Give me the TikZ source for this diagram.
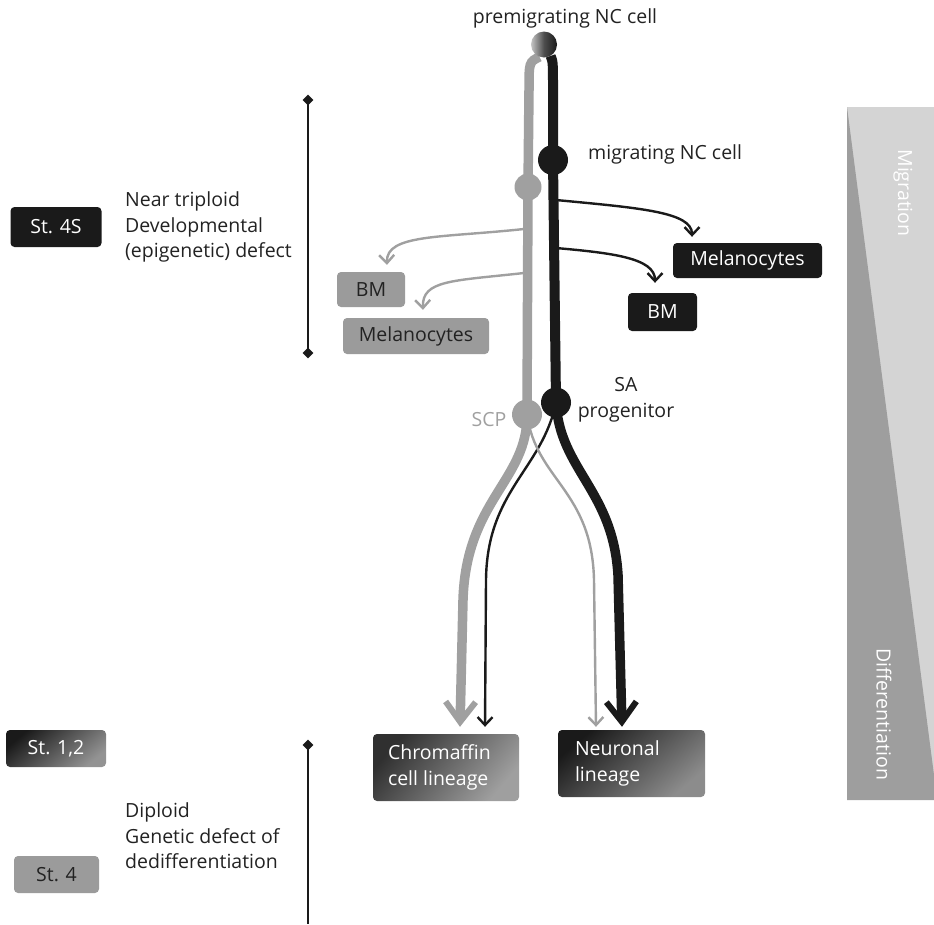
\documentclass[tikz,border=0pt]{standalone}
\usepackage{fontspec}
\setmainfont{Open Sans}
\usetikzlibrary{arrows.meta,shapes.geometric,backgrounds}
\definecolor{dk}{HTML}{1A1A1A}
\definecolor{gl}{HTML}{A0A0A0}
\definecolor{gb}{HTML}{9B9B9B}
\definecolor{barlt}{HTML}{D4D4D4}
\definecolor{bardk}{HTML}{9E9E9E}
\definecolor{txt}{HTML}{222222}
\definecolor{chromdk}{HTML}{303030}
\definecolor{celllt}{HTML}{C4C4C4}
\begin{document}
\begin{tikzpicture}[x=1pt,y=-1pt,
  lbl/.style={font=\fontsize{19.5}{25.5}\selectfont, text=txt, inner sep=0pt},
  boxbase/.style={rounded corners=4pt, inner sep=0pt, font=\fontsize{19.5}{25.5}\selectfont},
  blackbox/.style={boxbase, fill=dk, text=white},
  greybox/.style={boxbase, fill=gb, text=txt},
  cell/.style={circle, inner sep=0pt},
  gtrunk/.style={gl, line width=9.5pt},
  btrunk/.style={dk, line width=10pt},
  gthin/.style={gl, line width=2.4pt, -{Straight Barb[length=8pt,width=15pt,line width=2.4pt]}},
  bthin/.style={dk, line width=2.4pt, -{Straight Barb[length=8pt,width=15pt,line width=2.4pt]}},
  gthick/.style={gl, line width=9.5pt, -{Straight Barb[length=20pt,width=30pt,line width=6pt]}},
  bthick/.style={dk, line width=9.5pt, -{Straight Barb[length=20pt,width=30pt,line width=6pt]}},
  vmark/.style={diamond, fill=dk, inner sep=0pt, minimum width=11pt, minimum height=11pt, aspect=1},
  vline/.style={dk, line width=1.4pt}
]
\useasboundingbox (0,0) rectangle (934,924);

% right bar
\fill[barlt] (847,107) rectangle (934,800);
\fill[bardk] (847,107) -- (934,775) -- (934,800) -- (847,800) -- cycle;
\node[lbl, text=white, rotate=-90] (migr) at (903,193) {Migration};
\node[lbl, text=white, rotate=-90] (diffr) at (884,714) {Differentiation};

% cells
\node[lbl] (pretxt) at (565,18) {premigrating NC cell};
\node[cell, minimum size=26pt, left color=celllt, right color=dk, middle color=dk!70!celllt] (pre) at (544,44.5) {};
\node[cell, minimum size=30pt, fill=dk] (bmig) at (553,160) {};
\node[cell, minimum size=27pt, fill=gl] (gmig) at (528,187) {};
\node[cell, minimum size=30pt, fill=gl] (scp) at (527,414.5) {};
\node[cell, minimum size=30pt, fill=dk] (sa) at (556,402.5) {};
\node[lbl, anchor=west] (migtxt) at (588,154) {migrating NC cell};
\node[lbl, text=gl] (scptxt) at (489,420) {SCP};
\node[lbl, align=center] (satxt) at (626,400) {SA\\progenitor};

% side boxes
\node[greybox, minimum width=68pt, minimum height=35pt] (gbm) at (371,289.5) {BM};
\node[greybox, minimum width=146pt, minimum height=36pt] (gmel) at (416,336) {Melanocytes};
\node[blackbox, minimum width=149pt, minimum height=35pt] (bmel) at (747.5,260.5) {Melanocytes};
\node[blackbox, minimum width=69pt, minimum height=38pt] (bbm) at (662.5,312) {BM};

% lineage boxes
\node[boxbase, minimum width=146pt, minimum height=67pt, top color=chromdk, bottom color=gray!75, shading angle=50] (chrom) at (446,767.5) {};
\node[lbl, text=white, align=left, anchor=west] (chromtxt) at ([xshift=15pt]chrom.west) {Chromaffin\\cell lineage};
\node[boxbase, minimum width=147pt, minimum height=67pt, top color=dk, middle color=dk!95!white, bottom color=gray!90, shading angle=40] (neur) at (631.5,763.5) {};
\node[lbl, text=white, align=left, anchor=west] (neurtxt) at ([xshift=17pt]neur.west) {Neuronal\\lineage};

% stage boxes
\node[blackbox, minimum width=91pt, minimum height=40pt] (st4s) at (56,227) {St. 4S};
\node[boxbase, text=white, minimum width=100pt, minimum height=37pt, top color=dk, middle color=dk!90!white, bottom color=gray!85, shading angle=40] (st12) at (56,748.5) {St. 1,2};
\node[greybox, minimum width=85pt, minimum height=37pt] (st4) at (56.5,874.5) {St. 4};

\node[lbl, align=left, anchor=west] (tri) at (125,227) {Near triploid\\Developmental\\(epigenetic) defect};
\node[lbl, align=left, anchor=west] (dip) at (125,836) {Diploid\\Genetic defect of\\dedifferentiation};

% vertical markers
\node[vmark] (d1) at (308,100) {};
\node[vmark] (d2) at (308,353) {};
\node[vmark] (d3) at (308,745) {};
\coordinate (d4) at (308,924);
\draw[vline] (d1.center) -- (d2.center);
\draw[vline] (d3.center) -- (d4);

% branch start points
\coordinate (g1s) at (524,229);
\coordinate (g2s) at (524,273);
\coordinate (b1s) at (556,200);
\coordinate (b2s) at (556,248);

\begin{scope}[on background layer]
\draw[gtrunk] (pre.250) .. controls (529,62) .. (529,90) -- (gmig.center) -- (scp.center);
\draw[btrunk] (pre.300) .. controls (553,62) .. (553,90) -- (bmig.center) -- (sa.center);
\end{scope}

\draw[gthin] (g1s) .. controls (440,238) and (386,234) .. ([xshift=16pt,yshift=7pt]gbm.north);
\draw[gthin] (g2s) .. controls (452,281) and (422,280) .. ([xshift=7pt,yshift=8pt]gmel.north);
\draw[bthin] (b1s) .. controls (640,208) and (692,212) .. ([xshift=-55.5pt,yshift=6pt]bmel.north);
\draw[bthin] (b2s) .. controls (612,253) and (655,258) .. ([xshift=-7.5pt,yshift=10pt]bbm.north);

\begin{scope}[on background layer]
\draw[gthick] (scp.center) .. controls (528,480) and (466,500) .. (463,600) -- ([xshift=14pt,yshift=7pt]chrom.north);
\draw[bthick] (sa.center) .. controls (560,470) and (613,490) .. (618,575) -- ([xshift=-9.5pt,yshift=3pt]neur.north);
\draw[bthin] (sa.center) .. controls (542,470) and (487,490) .. (486,580) -- ([xshift=39pt,yshift=7pt]chrom.north);
\draw[gthin] (scp.center) .. controls (536,480) and (592,490) .. (594,580) -- ([xshift=-35.5pt,yshift=3pt]neur.north);
\end{scope}
\end{tikzpicture}
\end{document}
